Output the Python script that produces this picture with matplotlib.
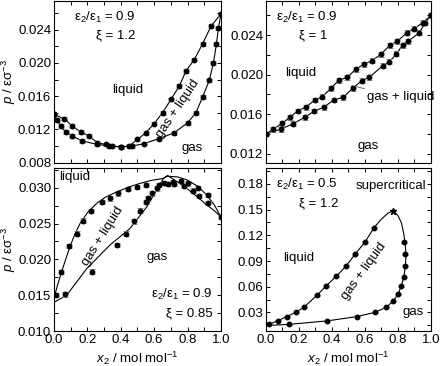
import numpy as np
import matplotlib.pyplot as plt
from matplotlib.ticker import MultipleLocator

plt.rcParams['font.family'] = ['Liberation Sans', 'DejaVu Sans']
plt.rcParams['mathtext.fontset'] = 'custom'
plt.rcParams['mathtext.rm'] = 'Liberation Sans'
plt.rcParams['mathtext.it'] = 'Liberation Sans:italic'
plt.rcParams['font.size'] = 9

# --- panel a: eps2/eps1 = 0.9, xi = 1.2 (top left)
a_up_x = [0.0, 0.06, 0.11, 0.16, 0.21, 0.26, 0.31, 0.35, 0.40, 0.45, 0.50, 0.55,
          0.60, 0.65, 0.70, 0.75, 0.79, 0.84, 0.89, 0.94, 1.0]
a_up_y = [0.0138, 0.0133, 0.0124, 0.0117, 0.0112, 0.0104, 0.0102, 0.0100, 0.0099,
          0.0100, 0.0108, 0.0116, 0.0127, 0.0140, 0.0156, 0.0172, 0.0190, 0.0204,
          0.0223, 0.0244, 0.0259]
a_lo_x = [0.0, 0.02, 0.04, 0.07, 0.11, 0.17, 0.26, 0.33, 0.40, 0.47, 0.54, 0.63,
          0.72, 0.80, 0.85, 0.89, 0.93, 0.955, 0.973, 0.985, 1.0]
a_lo_y = [0.0138, 0.0131, 0.0124, 0.0117, 0.0112, 0.0106, 0.0102, 0.0100, 0.0099,
          0.0100, 0.0103, 0.0109, 0.0116, 0.0128, 0.0140, 0.0159, 0.0179, 0.0200,
          0.0223, 0.0242, 0.0259]

# --- panel b: eps2/eps1 = 0.9, xi = 1 (top right)
b_up_x = [0.0, 0.044, 0.099, 0.145, 0.192, 0.240, 0.297, 0.341, 0.394, 0.442, 0.493,
          0.545, 0.594, 0.642, 0.697, 0.752, 0.796, 0.853, 0.897, 0.950, 1.0]
b_up_y = [0.0140, 0.01449, 0.01509, 0.0157, 0.01633, 0.01671, 0.01744, 0.01778,
          0.01862, 0.01946, 0.01973, 0.02057, 0.02107, 0.02141, 0.02208, 0.02299,
          0.02339, 0.02423, 0.02467, 0.02524, 0.0260]
b_lo_x = [0.0, 0.089, 0.162, 0.236, 0.293, 0.35, 0.41, 0.469, 0.525, 0.580, 0.626,
          0.707, 0.747, 0.790, 0.828, 0.862, 0.929, 0.964, 1.0]
b_lo_y = [0.0140, 0.01449, 0.01502, 0.0157, 0.01633, 0.0167, 0.01744, 0.01772,
          0.01862, 0.01939, 0.01973, 0.0209, 0.0213, 0.0221, 0.02299, 0.0234,
          0.02423, 0.02524, 0.0260]

# --- panel c: eps2/eps1 = 0.9, xi = 0.85 (bottom left)
c_line1_x = [0.0, 0.02, 0.046, 0.07, 0.096, 0.125, 0.156, 0.2, 0.255, 0.31, 0.375,
             0.45, 0.515, 0.58, 0.655, 0.68, 0.74, 0.795, 0.86, 0.914, 0.96, 1.0]
c_line1_y = [0.0146, 0.0163, 0.0183, 0.0200, 0.0218, 0.0235, 0.0250, 0.0265, 0.0278,
             0.0287, 0.0294, 0.0301, 0.0306, 0.0310, 0.0313, 0.0316, 0.0315, 0.0311,
             0.0302, 0.0290, 0.0276, 0.0259]
c_line2_x = [0.0, 0.076, 0.196, 0.335, 0.455, 0.555, 0.615, 0.655, 0.68, 0.74,
             0.795, 0.86, 0.914, 0.96, 1.0]
c_line2_y = [0.0140, 0.0150, 0.0187, 0.0220, 0.0243, 0.0273, 0.0297, 0.0313, 0.0317,
             0.0308, 0.0299, 0.0287, 0.0276, 0.0268, 0.0259]
c_pts1_x = [0.01, 0.042, 0.092, 0.14, 0.176, 0.22, 0.285, 0.335, 0.385, 0.445, 0.495,
            0.549, 0.66, 0.71, 0.76, 0.80, 0.86, 0.92, 1.0]
c_pts1_y = [0.0150, 0.0182, 0.0219, 0.0236, 0.0254, 0.0267, 0.0280, 0.0285, 0.0292,
            0.0298, 0.0301, 0.0304, 0.0307, 0.0308, 0.0309, 0.0306, 0.0300, 0.0290,
            0.0259]
c_pts2_x = [0.066, 0.225, 0.375, 0.429, 0.481, 0.515, 0.549, 0.565, 0.585, 0.615,
            0.63, 0.68, 0.72, 0.78, 0.83, 0.87, 0.92]
c_pts2_y = [0.0151, 0.0183, 0.0220, 0.0236, 0.0253, 0.0268, 0.0280, 0.0285, 0.0292,
            0.0299, 0.0304, 0.0305, 0.0305, 0.0302, 0.0296, 0.0288, 0.0279]

# --- panel d: eps2/eps1 = 0.5, xi = 1.2 (bottom right)
d_liq_x = [0.0, 0.02, 0.07, 0.125, 0.18, 0.23, 0.31, 0.365, 0.425, 0.485, 0.54, 0.60,
           0.655, 0.70, 0.74, 0.772]
d_liq_y = [0.0145, 0.016, 0.020, 0.025, 0.030, 0.036, 0.050, 0.061, 0.072, 0.084,
           0.098, 0.112, 0.129, 0.139, 0.146, 0.149]
d_gas_x = [0.772, 0.80, 0.82, 0.835, 0.845, 0.848, 0.845, 0.835, 0.82, 0.80, 0.77,
           0.73, 0.66, 0.55, 0.37, 0.14, 0.0]
d_gas_y = [0.149, 0.143, 0.135, 0.122, 0.108, 0.095, 0.084, 0.071, 0.061, 0.051,
           0.043, 0.036, 0.030, 0.025, 0.020, 0.016, 0.0145]
d_pts_liq_x = [0.02, 0.07, 0.125, 0.18, 0.23, 0.31, 0.365, 0.425, 0.485, 0.54, 0.60,
               0.655]
d_pts_liq_y = [0.016, 0.020, 0.025, 0.030, 0.036, 0.050, 0.061, 0.072, 0.084, 0.098,
               0.112, 0.129]
d_pts_gas_x = [0.14, 0.37, 0.55, 0.66, 0.73, 0.77, 0.80, 0.82, 0.835, 0.845, 0.845,
               0.835]
d_pts_gas_y = [0.016, 0.020, 0.025, 0.030, 0.036, 0.043, 0.051, 0.061, 0.071, 0.084,
               0.098, 0.112]
d_crit = (0.772, 0.149)

err_a, err_b, err_c, err_d = 0.00022, 0.00025, 0.0003, 0.0008


def style_axis(ax, ylim, ymajor, yminor, xlabels):
    ax.set_xlim(0, 1)
    ax.set_ylim(*ylim)
    ax.xaxis.set_major_locator(MultipleLocator(0.2))
    ax.xaxis.set_minor_locator(MultipleLocator(0.1))
    ax.yaxis.set_major_locator(MultipleLocator(ymajor))
    ax.yaxis.set_minor_locator(MultipleLocator(yminor))
    ax.tick_params(which='both', direction='in', top=True, right=True,
                   length=3, width=0.7, labelsize=9.5, pad=2)
    if not xlabels:
        ax.tick_params(labelbottom=False)
    for s in ax.spines.values():
        s.set_linewidth(0.8)


def draw_series(ax, x, y, err):
    ax.errorbar(x, y, yerr=err, fmt='none', ecolor='#8a8a8a', elinewidth=0.7,
                capsize=2, capthick=0.7, zorder=2)
    ax.plot(x, y, 'o', color='black', markersize=3.2, zorder=3)


def params(ax, ratio, xi, x1, y1, x2, y2, ha='left'):
    ax.text(x1, y1, r'ε$_2$/ε$_1$ = ' + ratio, transform=ax.transAxes,
            ha=ha, va='center', fontsize=9.5)
    ax.text(x2, y2, 'ξ = ' + xi, transform=ax.transAxes,
            ha=ha, va='center', fontsize=9.5)


fig = plt.figure(figsize=(4.4, 3.66), dpi=100)
ax_a = fig.add_axes([0.1227, 0.5555, 0.3795, 0.443])
ax_b = fig.add_axes([0.6045, 0.5555, 0.375, 0.443])
ax_c = fig.add_axes([0.1227, 0.0956, 0.3795, 0.4445])
ax_d = fig.add_axes([0.6045, 0.0956, 0.375, 0.4445])

# panel a
ax_a.plot(a_up_x, a_up_y, '-', color='black', lw=0.8)
ax_a.plot(a_lo_x, a_lo_y, '-', color='black', lw=0.8)
draw_series(ax_a, a_up_x, a_up_y, err_a)
draw_series(ax_a, a_lo_x, a_lo_y, err_a)
style_axis(ax_a, (0.008, 0.0275), 0.004, 0.002, False)
ax_a.yaxis.set_major_formatter(lambda v, p: f'{v:.3f}')
params(ax_a, '0.9', '1.2', 0.12, 0.895, 0.25, 0.785)
ax_a.text(0.44, 0.0168, 'liquid', ha='center', va='center', fontsize=9.5)
ax_a.text(0.74, 0.0145, 'gas + liquid', ha='center', va='center', rotation=56,
          fontsize=9.5)
ax_a.text(0.83, 0.0098, 'gas', ha='center', va='center', fontsize=9.5)

# panel b
ax_b.plot(b_up_x, b_up_y, '-', color='black', lw=0.8)
ax_b.plot(b_lo_x, b_lo_y, '-', color='black', lw=0.8)
draw_series(ax_b, b_up_x, b_up_y, err_b)
draw_series(ax_b, b_lo_x, b_lo_y, err_b)
style_axis(ax_b, (0.0111, 0.0275), 0.004, 0.002, False)
ax_b.yaxis.set_major_formatter(lambda v, p: f'{v:.3f}')
params(ax_b, '0.9', '1', 0.06, 0.895, 0.2, 0.785)
ax_b.text(0.21, 0.0202, 'liquid', ha='center', va='center', fontsize=9.5)
ax_b.annotate('gas + liquid', xy=(0.52, 0.0189), xytext=(0.61, 0.0177),
              ha='left', va='center', fontsize=9.5,
              arrowprops=dict(arrowstyle='-', color='#555555', lw=0.6,
                              shrinkA=0, shrinkB=0))
ax_b.text(0.62, 0.0128, 'gas', ha='center', va='center', fontsize=9.5)

# panel c
ax_c.plot(c_line1_x, c_line1_y, '-', color='black', lw=0.8)
ax_c.plot(c_line2_x, c_line2_y, '-', color='black', lw=0.8)
draw_series(ax_c, c_pts1_x, c_pts1_y, err_c)
draw_series(ax_c, c_pts2_x, c_pts2_y, err_c)
style_axis(ax_c, (0.010, 0.0327), 0.005, 0.0025, True)
ax_c.yaxis.set_major_formatter(lambda v, p: f'{v:.3f}')
ax_c.xaxis.set_major_formatter(lambda v, p: f'{v:.1f}')
ax_c.text(0.03, 0.0315, 'liquid', ha='left', va='center', fontsize=9.5)
ax_c.text(0.29, 0.0232, 'gas + liquid', ha='center', va='center', rotation=58,
          fontsize=9.5)
ax_c.text(0.62, 0.0203, 'gas', ha='center', va='center', fontsize=9.5)
params(ax_c, '0.9', '0.85', 0.95, 0.225, 0.95, 0.11, ha='right')

# panel d
ax_d.plot(d_liq_x, d_liq_y, '-', color='black', lw=0.8)
ax_d.plot(d_gas_x, d_gas_y, '-', color='black', lw=0.8)
draw_series(ax_d, d_pts_liq_x, d_pts_liq_y, err_d)
draw_series(ax_d, d_pts_gas_x, d_pts_gas_y, err_d)
ax_d.plot(*d_crit, marker='*', color='black', markersize=5, zorder=4)
style_axis(ax_d, (0.0082, 0.1983), 0.03, 0.015, True)
ax_d.yaxis.set_major_formatter(lambda v, p: f'{v:.2f}')
ax_d.xaxis.set_major_formatter(lambda v, p: f'{v:.1f}')
params(ax_d, '0.5', '1.2', 0.06, 0.9, 0.2, 0.785)
ax_d.text(0.76, 0.178, 'supercritical', ha='center', va='center', fontsize=9.5)
ax_d.text(0.2, 0.093, 'liquid', ha='center', va='center', fontsize=9.5)
ax_d.text(0.595, 0.078, 'gas + liquid', ha='center', va='center', rotation=54,
          fontsize=9.5)
ax_d.text(0.89, 0.0305, 'gas', ha='center', va='center', fontsize=9.5)

ylab = r'$p$ / εσ$^{-3}$'
xlab = r'$x_2$ / mol mol$^{-1}$'
for ax in (ax_a, ax_c):
    ax.set_ylabel(ylab, fontsize=9.5)
    ax.yaxis.set_label_coords(-0.215, 0.5)
for ax in (ax_c, ax_d):
    ax.set_xlabel(xlab, fontsize=9.5)
    ax.xaxis.set_label_coords(0.5, -0.115)

fig.savefig('out.png', dpi=100)
